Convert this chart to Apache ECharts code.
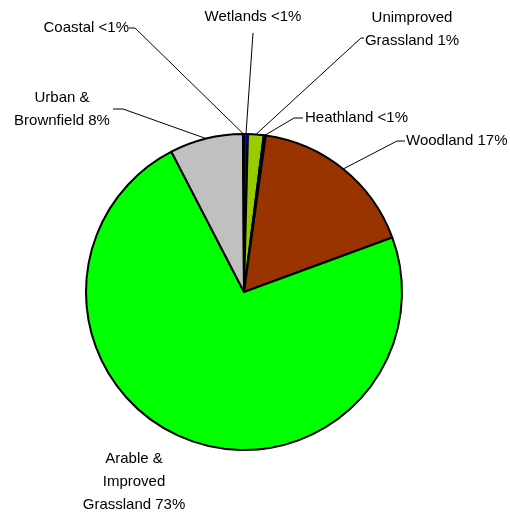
<!DOCTYPE html>
<html>
<head>
<meta charset="utf-8">
<script src="https://cdn.jsdelivr.net/npm/echarts@6/dist/echarts.min.js"></script>
<style>
html, body { margin: 0; padding: 0; background: #fff; }
#main { width: 510px; height: 515px; }
</style>
</head>
<body>
<div id="main"></div>
<script>
const chartDom = document.getElementById('main');
const myChart = echarts.init(chartDom);

// land cover categories, clockwise from 12 o'clock
const categories = ['Wetlands', 'Unimproved Grassland', 'Heathland', 'Woodland',
	'Arable & Improved Grassland', 'Urban & Brownfield', 'Coastal'];
const shares = [0.4, 1.6, 0.2, 17.2, 73.0, 7.5, 0.1];
const labelTexts = ['Wetlands <1%', 'Unimproved\nGrassland 1%', 'Heathland <1%', 'Woodland 17%',
	'Arable &\nImproved\nGrassland 73%', 'Urban &\nBrownfield 8%', 'Coastal <1%'];
const colors = ['#0000ff', '#99cc00', '#800080', '#993300', '#00ff00', '#c0c0c0', '#00ffff'];

// where each label sits and how its leader bends
const labelPlace = [
	{ x: 253, y: 17, align: 'center', bend: [253, 33], end: [253, 33] },
	{ x: 412, y: 29, align: 'center', bend: [361, 38], end: [364, 38] },
	{ x: 305, y: 118, align: 'left', bend: [294, 118], end: [303, 118] },
	{ x: 406, y: 141, align: 'left', bend: [397, 141], end: [405, 141] },
	{ x: 134, y: 482, align: 'center', bend: null, end: null },
	{ x: 62, y: 109, align: 'center', bend: [123, 109], end: [113, 109] },
	{ x: 129, y: 28, align: 'right', bend: [135, 28], end: [129, 28] }
];

let pieData = categories.map((name, i) => ({
	name: name,
	value: shares[i],
	itemStyle: { color: colors[i] },
	label: { formatter: labelTexts[i] },
	labelLine: { show: labelPlace[i].bend !== null }
}));

let option = {
	animation: false,
	backgroundColor: '#ffffff',
	series: [{
		type: 'pie',
		center: [244, 292],
		radius: 158,
		startAngle: 90,
		clockwise: true,
		minAngle: 0,
		avoidLabelOverlap: false,
		itemStyle: {
			borderColor: '#000000',
			borderWidth: 2
		},
		label: {
			show: true,
			position: 'outside',
			color: '#000000',
			fontFamily: 'Liberation Sans, Arial, sans-serif',
			fontSize: 15,
			lineHeight: 23
		},
		labelLine: {
			show: true,
			length: 10,
			length2: 10,
			lineStyle: { color: '#000000', width: 1 }
		},
		labelLayout: function(params) {
			const p = labelPlace[params.dataIndex];
			let res = {
				x: p.x,
				y: p.y,
				align: p.align,
				verticalAlign: 'middle',
				hideOverlap: false,
				moveOverlap: false
			};
			if (p.bend && params.labelLinePoints) {
				res.labelLinePoints = [params.labelLinePoints[0], p.bend, p.end];
			}
			return res;
		},
		data: pieData
	}]
};

myChart.setOption(option);
</script>
</body>
</html>
